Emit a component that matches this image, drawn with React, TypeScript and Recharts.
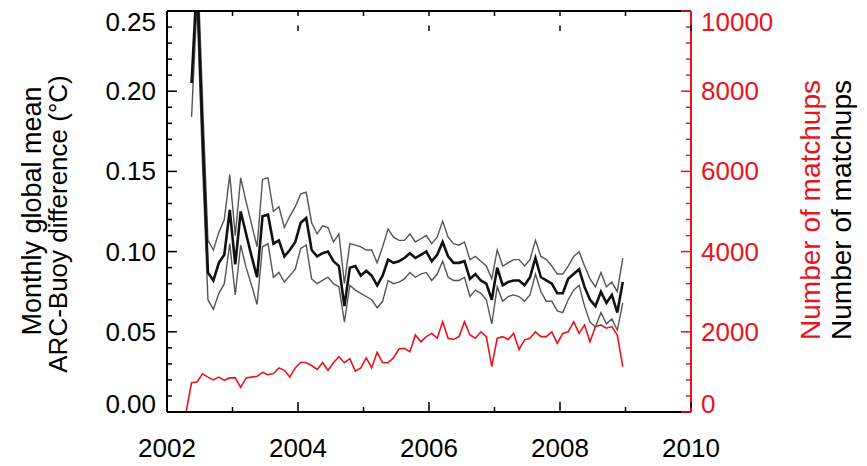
import { LineChart, Line, XAxis, YAxis, Rectangle } from 'recharts';

// monthly samples, Jan 2002 .. Dec 2008
const months = [
  '2002-01', '2002-02', '2002-03', '2002-04', '2002-05', '2002-06', '2002-07', '2002-08', '2002-09', '2002-10', '2002-11', '2002-12',
  '2003-01', '2003-02', '2003-03', '2003-04', '2003-05', '2003-06', '2003-07', '2003-08', '2003-09', '2003-10', '2003-11', '2003-12',
  '2004-01', '2004-02', '2004-03', '2004-04', '2004-05', '2004-06', '2004-07', '2004-08', '2004-09', '2004-10', '2004-11', '2004-12',
  '2005-01', '2005-02', '2005-03', '2005-04', '2005-05', '2005-06', '2005-07', '2005-08', '2005-09', '2005-10', '2005-11', '2005-12',
  '2006-01', '2006-02', '2006-03', '2006-04', '2006-05', '2006-06', '2006-07', '2006-08', '2006-09', '2006-10', '2006-11', '2006-12',
  '2007-01', '2007-02', '2007-03', '2007-04', '2007-05', '2007-06', '2007-07', '2007-08', '2007-09', '2007-10', '2007-11', '2007-12',
  '2008-01', '2008-02', '2008-03', '2008-04', '2008-05', '2008-06', '2008-07', '2008-08', '2008-09', '2008-10', '2008-11', '2008-12',
];

const meanDiff = [
  null, null, null, null, 0.205, 0.27, 0.175, 0.087, 0.082, 0.093, 0.098, 0.126,
  0.092, 0.125, 0.111, 0.097, 0.084, 0.122, 0.123, 0.105, 0.107, 0.097, 0.101, 0.106,
  0.118, 0.121, 0.101, 0.097, 0.099, 0.1, 0.094, 0.091, 0.066, 0.09, 0.091, 0.085,
  0.088, 0.085, 0.079, 0.085, 0.095, 0.093, 0.094, 0.096, 0.099, 0.096, 0.098, 0.1,
  0.094, 0.098, 0.106, 0.097, 0.093, 0.093, 0.094, 0.083, 0.086, 0.082, 0.08, 0.07,
  0.09, 0.079, 0.081, 0.082, 0.082, 0.079, 0.084, 0.096, 0.084, 0.082, 0.08, 0.074,
  0.074, 0.083, 0.086, 0.089, 0.078, 0.07, 0.066, 0.075, 0.068, 0.073, 0.062, 0.081,
];

const upperDiff = [
  null, null, null, null, 0.262, 0.29, 0.195, 0.107, 0.101, 0.112, 0.12, 0.148,
  0.11, 0.146, 0.131, 0.117, 0.103, 0.145, 0.146, 0.125, 0.128, 0.115, 0.122, 0.128,
  0.136, 0.137, 0.118, 0.111, 0.116, 0.115, 0.106, 0.111, 0.08, 0.105, 0.104, 0.103,
  0.101, 0.101, 0.093, 0.103, 0.114, 0.109, 0.107, 0.107, 0.111, 0.106, 0.108, 0.11,
  0.105, 0.109, 0.119, 0.109, 0.105, 0.104, 0.106, 0.095, 0.097, 0.094, 0.091, 0.083,
  0.101, 0.091, 0.093, 0.095, 0.095, 0.091, 0.095, 0.107, 0.097, 0.095, 0.091, 0.086,
  0.086, 0.091, 0.097, 0.1, 0.091, 0.083, 0.078, 0.087, 0.078, 0.081, 0.075, 0.096,
];

const lowerDiff = [
  null, null, null, null, 0.184, 0.255, 0.155, 0.07, 0.064, 0.074, 0.08, 0.105,
  0.073, 0.104, 0.09, 0.079, 0.067, 0.103, 0.105, 0.084, 0.087, 0.081, 0.085, 0.089,
  0.102, 0.104, 0.083, 0.08, 0.082, 0.084, 0.08, 0.078, 0.056, 0.079, 0.076, 0.074,
  0.072, 0.07, 0.065, 0.069, 0.082, 0.08, 0.081, 0.083, 0.087, 0.084, 0.086, 0.087,
  0.082, 0.086, 0.094, 0.084, 0.082, 0.082, 0.084, 0.072, 0.076, 0.074, 0.07, 0.055,
  0.078, 0.069, 0.072, 0.073, 0.072, 0.069, 0.073, 0.086, 0.075, 0.069, 0.069, 0.063,
  0.062, 0.07, 0.076, 0.079, 0.066, 0.056, 0.053, 0.062, 0.055, 0.058, 0.051, 0.068,
];

const matchups = [
  0, 0, 0, 0, 730, 750, 950, 870, 800, 870, 790, 850,
  850, 615, 850, 870, 890, 990, 930, 960, 1100, 1040, 870, 1100,
  1240, 1230, 1160, 1060, 1230, 1040, 1230, 1380, 1230, 1330, 1020, 1100,
  1350, 1100, 1490, 1230, 1230, 1350, 1570, 1590, 1500, 1920, 1750, 1880,
  1960, 1840, 2250, 1840, 1810, 1880, 2250, 1920, 1840, 2000, 1880, 1130,
  1840, 1880, 1810, 1960, 1560, 1800, 1840, 2000, 1880, 1880, 2000, 1710,
  1960, 2000, 2250, 1960, 2170, 1750, 2130, 2170, 2090, 2130, 1920, 1130,
];

const yearTicks = [2002, 2003, 2004, 2005, 2006, 2007, 2008, 2009, 2010];
const leftTicks = [
  0, 0.01, 0.02, 0.03, 0.04, 0.05, 0.06, 0.07, 0.08, 0.09, 0.1, 0.11, 0.12,
  0.13, 0.14, 0.15, 0.16, 0.17, 0.18, 0.19, 0.2, 0.21, 0.22, 0.23, 0.24, 0.25,
];
const rightTicks = [
  0, 400, 800, 1200, 1600, 2000, 2400, 2800, 3200, 3600, 4000, 4400, 4800,
  5200, 5600, 6000, 6400, 6800, 7200, 7600, 8000, 8400, 8800, 9200, 9600, 10000,
];

const RED = '#e8141c';
const FONT = '"Liberation Sans", Arial, Helvetica, sans-serif';

const W = 867;
const H = 466;
const TOP = 10;
const TOP_H = 1;
const LEFT_W = 167;
const RIGHT_W = 176;
const BOTTOM_H = 54;
const MINOR = 5;
const MAJOR = 10;

const data = months.map((m, i) => {
  const [y, mo] = m.split('-').map(Number);
  return {
    t: y + (mo - 0.5) / 12,
    mean: meanDiff[i],
    upper: upperDiff[i],
    lower: lowerDiff[i],
    n: matchups[i],
  };
});

// tick callbacks: x/y arrive on the axis line; the axis draws the short tick,
// majors get an extra stub and a label
function leftTick(p: any) {
  const v = Number(p.payload.value);
  const major = Math.round(v * 100) % 5 === 0;
  if (!major) return <g />;
  let dy = 0;
  if (v >= 0.25) dy = 11;
  if (v === 0) dy = -8;
  return (
    <g>
      <Rectangle x={p.x + MINOR - 0.5} y={p.y - 0.75} width={MAJOR - MINOR + 0.5} height={1.5} fill="#000" />
      <text x={p.x - 11} y={p.y + dy} textAnchor="end" dominantBaseline="central" fontSize={26} fill="#000">
        {v.toFixed(2)}
      </text>
    </g>
  );
}

function rightTick(p: any) {
  const v = Number(p.payload.value);
  const major = v % 2000 === 0;
  if (!major) return <g />;
  let dy = 0;
  if (v >= 10000) dy = 11;
  if (v === 0) dy = -8;
  return (
    <g>
      <Rectangle x={p.x - MAJOR} y={p.y - 0.75} width={MAJOR - MINOR + 0.5} height={1.5} fill={RED} />
      <text x={p.x + 10} y={p.y + dy} textAnchor="start" dominantBaseline="central" fontSize={26} fill={RED}>
        {v}
      </text>
    </g>
  );
}

function bottomTick(p: any) {
  const v = Number(p.payload.value);
  if (v % 2 !== 0) return <g />;
  return (
    <g>
      <Rectangle x={p.x - 0.75} y={p.y - MAJOR} width={1.5} height={MAJOR - MINOR + 0.5} fill="#000" />
      <text x={p.x} y={p.y + 36} textAnchor="middle" dominantBaseline="central" fontSize={26} fill="#000">
        {v}
      </text>
    </g>
  );
}

function topTick(p: any) {
  const v = Number(p.payload.value);
  if (v % 2 !== 0) return <g />;
  return <Rectangle x={p.x - 0.75} y={p.y + MINOR - 0.5} width={1.5} height={MAJOR - MINOR + 0.5} fill="#000" />;
}

export default function App() {
  return (
    <div style={{ position: 'absolute', left: 0, top: 0, width: W, height: H, background: '#fff', fontFamily: FONT }}>
      <LineChart width={W} height={H} data={data} margin={{ top: TOP, right: 0, bottom: 0, left: 0 }}>
        <XAxis
          dataKey="t"
          type="number"
          domain={[2002, 2010]}
          ticks={yearTicks}
          interval={0}
          height={BOTTOM_H}
          tickSize={-MINOR}
          tickMargin={MINOR}
          tickLine={{ stroke: '#000', strokeWidth: 1.5 }}
          tick={bottomTick}
          axisLine={{ stroke: '#000', strokeWidth: 2 }}
        />
        <XAxis
          xAxisId="top"
          orientation="top"
          dataKey="t"
          type="number"
          domain={[2002, 2010]}
          ticks={yearTicks}
          interval={0}
          height={TOP_H}
          tickSize={-MINOR}
          tickMargin={-MINOR}
          tickLine={{ stroke: '#000', strokeWidth: 1.5 }}
          tick={topTick}
          axisLine={{ stroke: '#000', strokeWidth: 2 }}
        />
        <YAxis
          yAxisId="left"
          type="number"
          domain={[0, 0.25]}
          allowDataOverflow
          ticks={leftTicks}
          interval={0}
          width={LEFT_W}
          tickSize={-MINOR}
          tickMargin={MINOR}
          tickLine={{ stroke: '#000', strokeWidth: 1.5 }}
          tick={leftTick}
          axisLine={{ stroke: '#000', strokeWidth: 2 }}
        />
        <YAxis
          yAxisId="right"
          orientation="right"
          type="number"
          domain={[0, 10000]}
          ticks={rightTicks}
          interval={0}
          width={RIGHT_W}
          tickSize={-MINOR}
          tickMargin={MINOR}
          tickLine={{ stroke: RED, strokeWidth: 1.5 }}
          tick={rightTick}
          axisLine={{ stroke: RED, strokeWidth: 2 }}
        />
        <Line xAxisId="top" yAxisId="right" dataKey="n" stroke={RED} strokeWidth={1.6} dot={false} isAnimationActive={false} />
        <Line yAxisId="left" dataKey="upper" stroke="#555" strokeWidth={1.4} dot={false} isAnimationActive={false} />
        <Line yAxisId="left" dataKey="lower" stroke="#555" strokeWidth={1.4} dot={false} isAnimationActive={false} />
        <Line yAxisId="left" dataKey="mean" stroke="#111" strokeWidth={2.6} dot={false} isAnimationActive={false} />
      </LineChart>
      <svg width={W} height={H} style={{ position: 'absolute', left: 0, top: 0, pointerEvents: 'none' }} fontFamily={FONT}>
        <text transform="translate(32,211) rotate(-90)" textAnchor="middle" dominantBaseline="central" fontSize={27} fill="#000">
          Monthly global mean
        </text>
        <text transform="translate(58,224) rotate(-90)" textAnchor="middle" dominantBaseline="central" fontSize={26} fill="#000">
          ARC-Buoy difference (°C)
        </text>
        <text transform="translate(810,210) rotate(-90)" textAnchor="middle" dominantBaseline="central" fontSize={28} fill={RED}>
          Number of matchups
        </text>
        <text transform="translate(841,210) rotate(-90)" textAnchor="middle" dominantBaseline="central" fontSize={28} fill="#000">
          Number of matchups
        </text>
      </svg>
    </div>
  );
}
